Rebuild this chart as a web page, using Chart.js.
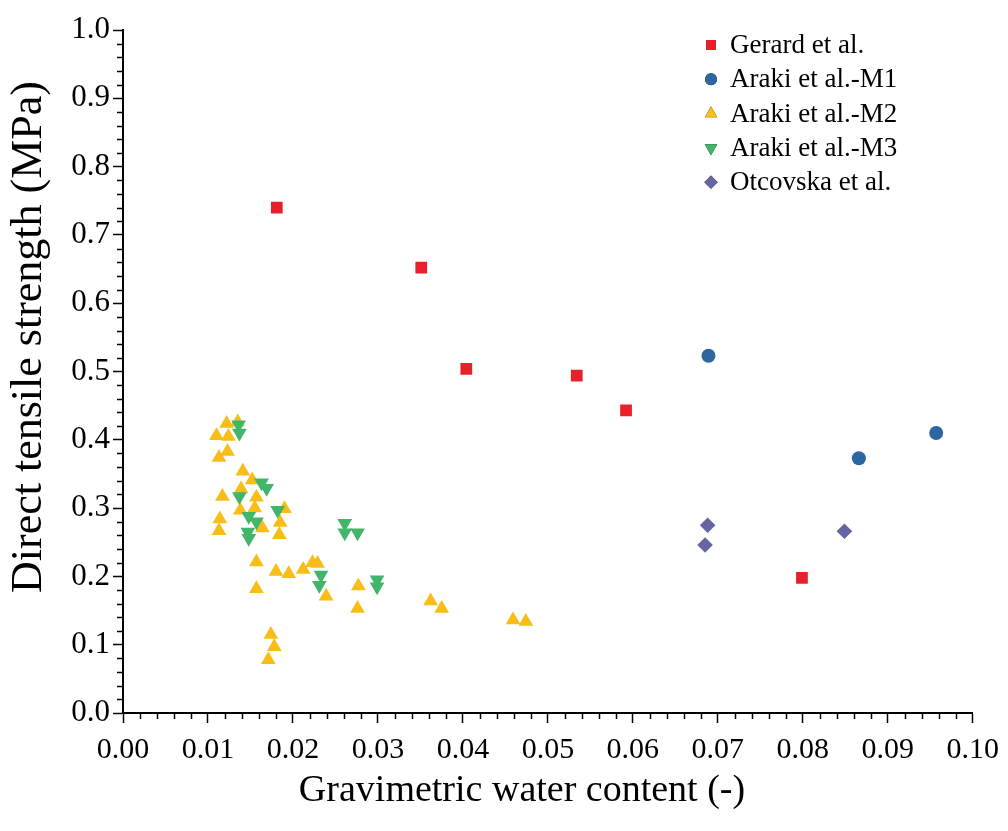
<!DOCTYPE html>
<html>
<head>
<meta charset="utf-8">
<script src="https://cdn.jsdelivr.net/npm/chart.js@4/dist/chart.umd.min.js"></script>
<style>
  html, body { margin: 0; padding: 0; background: #fff; }
  #wrap { width: 1008px; height: 831px; }
</style>
</head>
<body>
<div id="wrap"><canvas id="tensileChart"></canvas></div>
<script>
// Data (x = gravimetric water content, y = strength in MPa)
const gerardX = [0.0181, 0.0351, 0.0404, 0.0534, 0.0592, 0.0799];
const gerardY = [0.740, 0.652, 0.504, 0.494, 0.443, 0.198];

const m1X = [0.0689, 0.0866, 0.0957];
const m1Y = [0.523, 0.373, 0.410];

const m2X = [0.0122, 0.0135, 0.0110, 0.0124, 0.0123, 0.0113, 0.0141, 0.0152, 0.0117, 0.0139,
             0.0157, 0.0138, 0.0155, 0.0190, 0.0114, 0.0113, 0.0164, 0.0185, 0.0184, 0.0157,
             0.0180, 0.0195, 0.0212, 0.0223, 0.0229, 0.0157, 0.0239, 0.0277, 0.0276, 0.0174,
             0.0178, 0.0171, 0.0362, 0.0375, 0.0459, 0.0474];
const m2Y = [0.424, 0.426, 0.406, 0.405, 0.383, 0.374, 0.354, 0.341, 0.317, 0.328,
             0.316, 0.297, 0.300, 0.299, 0.284, 0.267, 0.271, 0.279, 0.261, 0.221,
             0.207, 0.204, 0.210, 0.220, 0.219, 0.182, 0.171, 0.186, 0.153, 0.115,
             0.097, 0.078, 0.164, 0.153, 0.136, 0.134];

const m3X = [0.0136, 0.0137, 0.0163, 0.0169, 0.0137, 0.0182, 0.0148, 0.0157, 0.0147, 0.0148,
             0.0261, 0.0261, 0.0276, 0.0233, 0.0231, 0.0299, 0.0299];
const m3Y = [0.422, 0.410, 0.337, 0.329, 0.317, 0.297, 0.288, 0.280, 0.265, 0.256,
             0.278, 0.264, 0.264, 0.202, 0.187, 0.195, 0.185];

const otcX = [0.0688, 0.0685, 0.0849];
const otcY = [0.275, 0.246, 0.266];

const seriesNames = ['Gerard et al.', 'Araki et al.-M1', 'Araki et al.-M2', 'Araki et al.-M3', 'Otcovska et al.'];

const xTitle = 'Gravimetric water content (-)';
const yTitle = 'Direct tensile strength (MPa)';

const xTickStep = 0.01;
const yTickStep = 0.1;

const serif = '"Liberation Serif", "Times New Roman", serif';

function toPoints(xs, ys) {
  return xs.map((x, i) => ({ x: x, y: ys[i] }));
}

// Minor tick marks (4 between each labelled tick) on both axes
const minorTicks = {
  id: 'minorTicks',
  afterDraw(chart) {
    const { ctx, scales: { x, y } } = chart;
    ctx.save();
    ctx.strokeStyle = '#000';
    ctx.lineWidth = 1.5;
    ctx.beginPath();
    for (let i = 0; i <= 50; i++) {
      if (i % 5 === 0) continue;
      const px = Math.round(x.getPixelForValue(i * 0.002)) + 0.5;
      ctx.moveTo(px, x.top);
      ctx.lineTo(px, x.top + 6);
      const py = Math.round(y.getPixelForValue(i * 0.02)) + 0.5;
      ctx.moveTo(y.right, py);
      ctx.lineTo(y.right - 6, py);
    }
    ctx.stroke();
    ctx.restore();
  }
};

// Axis titles, placed like the original figure (not centred on the plot)
const axisTitles = {
  id: 'axisTitles',
  afterDraw(chart) {
    const { ctx } = chart;
    ctx.save();
    ctx.fillStyle = '#000';
    ctx.textAlign = 'center';
    ctx.textBaseline = 'middle';
    ctx.font = '38px ' + serif;
    ctx.fillText(xTitle, 522, 791);
    ctx.translate(29, 337);
    ctx.rotate(-Math.PI / 2);
    ctx.font = '44px ' + serif;
    ctx.fillText(yTitle, 0, 0);
    ctx.restore();
  }
};

// Legend drawn inside the plot, top right
const insideLegend = {
  id: 'insideLegend',
  afterDraw(chart) {
    const { ctx } = chart;
    ctx.save();
    ctx.font = '27px ' + serif;
    ctx.textBaseline = 'middle';
    chart.data.datasets.forEach((ds, i) => {
      const yy = 45 + i * 34.3;
      Chart.helpers.drawPoint(ctx, {
        pointStyle: ds.pointStyle,
        radius: ds.pointRadius * 0.85,
        rotation: ds.rotation || 0,
        borderWidth: 0
      }, 711, yy);
      ctx.fillStyle = ds.backgroundColor;
      ctx.fill();
      ctx.fillStyle = '#000';
      ctx.fillText(ds.label, 730, yy + 1);
    });
    ctx.restore();
  }
};

document.addEventListener('DOMContentLoaded', () => {
  const ctx = document.getElementById('tensileChart').getContext('2d');

  new Chart(ctx, {
    type: 'scatter',
    data: {
      datasets: [
        {
          label: seriesNames[0],
          data: toPoints(gerardX, gerardY),
          pointStyle: 'rect',
          pointRadius: 8.3,
          backgroundColor: '#e8202a',
          borderWidth: 0,
          order: 1
        },
        {
          label: seriesNames[1],
          data: toPoints(m1X, m1Y),
          pointStyle: 'circle',
          pointRadius: 7,
          backgroundColor: '#2e66a2',
          borderWidth: 0,
          order: 1
        },
        {
          label: seriesNames[2],
          data: toPoints(m2X, m2Y),
          pointStyle: 'triangle',
          pointRadius: 8.5,
          backgroundColor: '#f8bd16',
          borderWidth: 0,
          order: 3
        },
        {
          label: seriesNames[3],
          data: toPoints(m3X, m3Y),
          pointStyle: 'triangle',
          rotation: 180,
          pointRadius: 8.5,
          backgroundColor: '#41b56a',
          borderWidth: 0,
          order: 2
        },
        {
          label: seriesNames[4],
          data: toPoints(otcX, otcY),
          pointStyle: 'rectRot',
          pointRadius: 7.8,
          backgroundColor: '#6565a3',
          borderWidth: 0,
          order: 1
        }
      ]
    },
    options: {
      responsive: true,
      maintainAspectRatio: false,
      animation: false,
      layout: { padding: { top: 30, right: 33, bottom: 0, left: 0 } },
      plugins: {
        legend: { display: false },
        tooltip: { enabled: false }
      },
      scales: {
        x: {
          type: 'linear',
          min: 0,
          max: 0.1,
          afterFit: (scale) => { scale.height = 118; },
          border: { color: '#000', width: 2 },
          grid: { drawOnChartArea: false, drawTicks: true, tickLength: 10, tickColor: '#000', tickWidth: 1.5 },
          ticks: {
            stepSize: xTickStep,
            autoSkip: false,
            maxRotation: 0,
            color: '#000',
            padding: 9,
            font: { family: serif, size: 30 },
            callback: (v) => Number(v).toFixed(2)
          }
        },
        y: {
          type: 'linear',
          min: 0,
          max: 1,
          afterFit: (scale) => { scale.width = 123; },
          border: { color: '#000', width: 2 },
          grid: { drawOnChartArea: false, drawTicks: true, tickLength: 10, tickColor: '#000', tickWidth: 1.5 },
          ticks: {
            stepSize: yTickStep,
            autoSkip: false,
            color: '#000',
            padding: 3,
            font: { family: serif, size: 31 },
            callback: (v) => Number(v).toFixed(1)
          }
        }
      }
    },
    plugins: [minorTicks, axisTitles, insideLegend]
  });
});
</script>
</body>
</html>
